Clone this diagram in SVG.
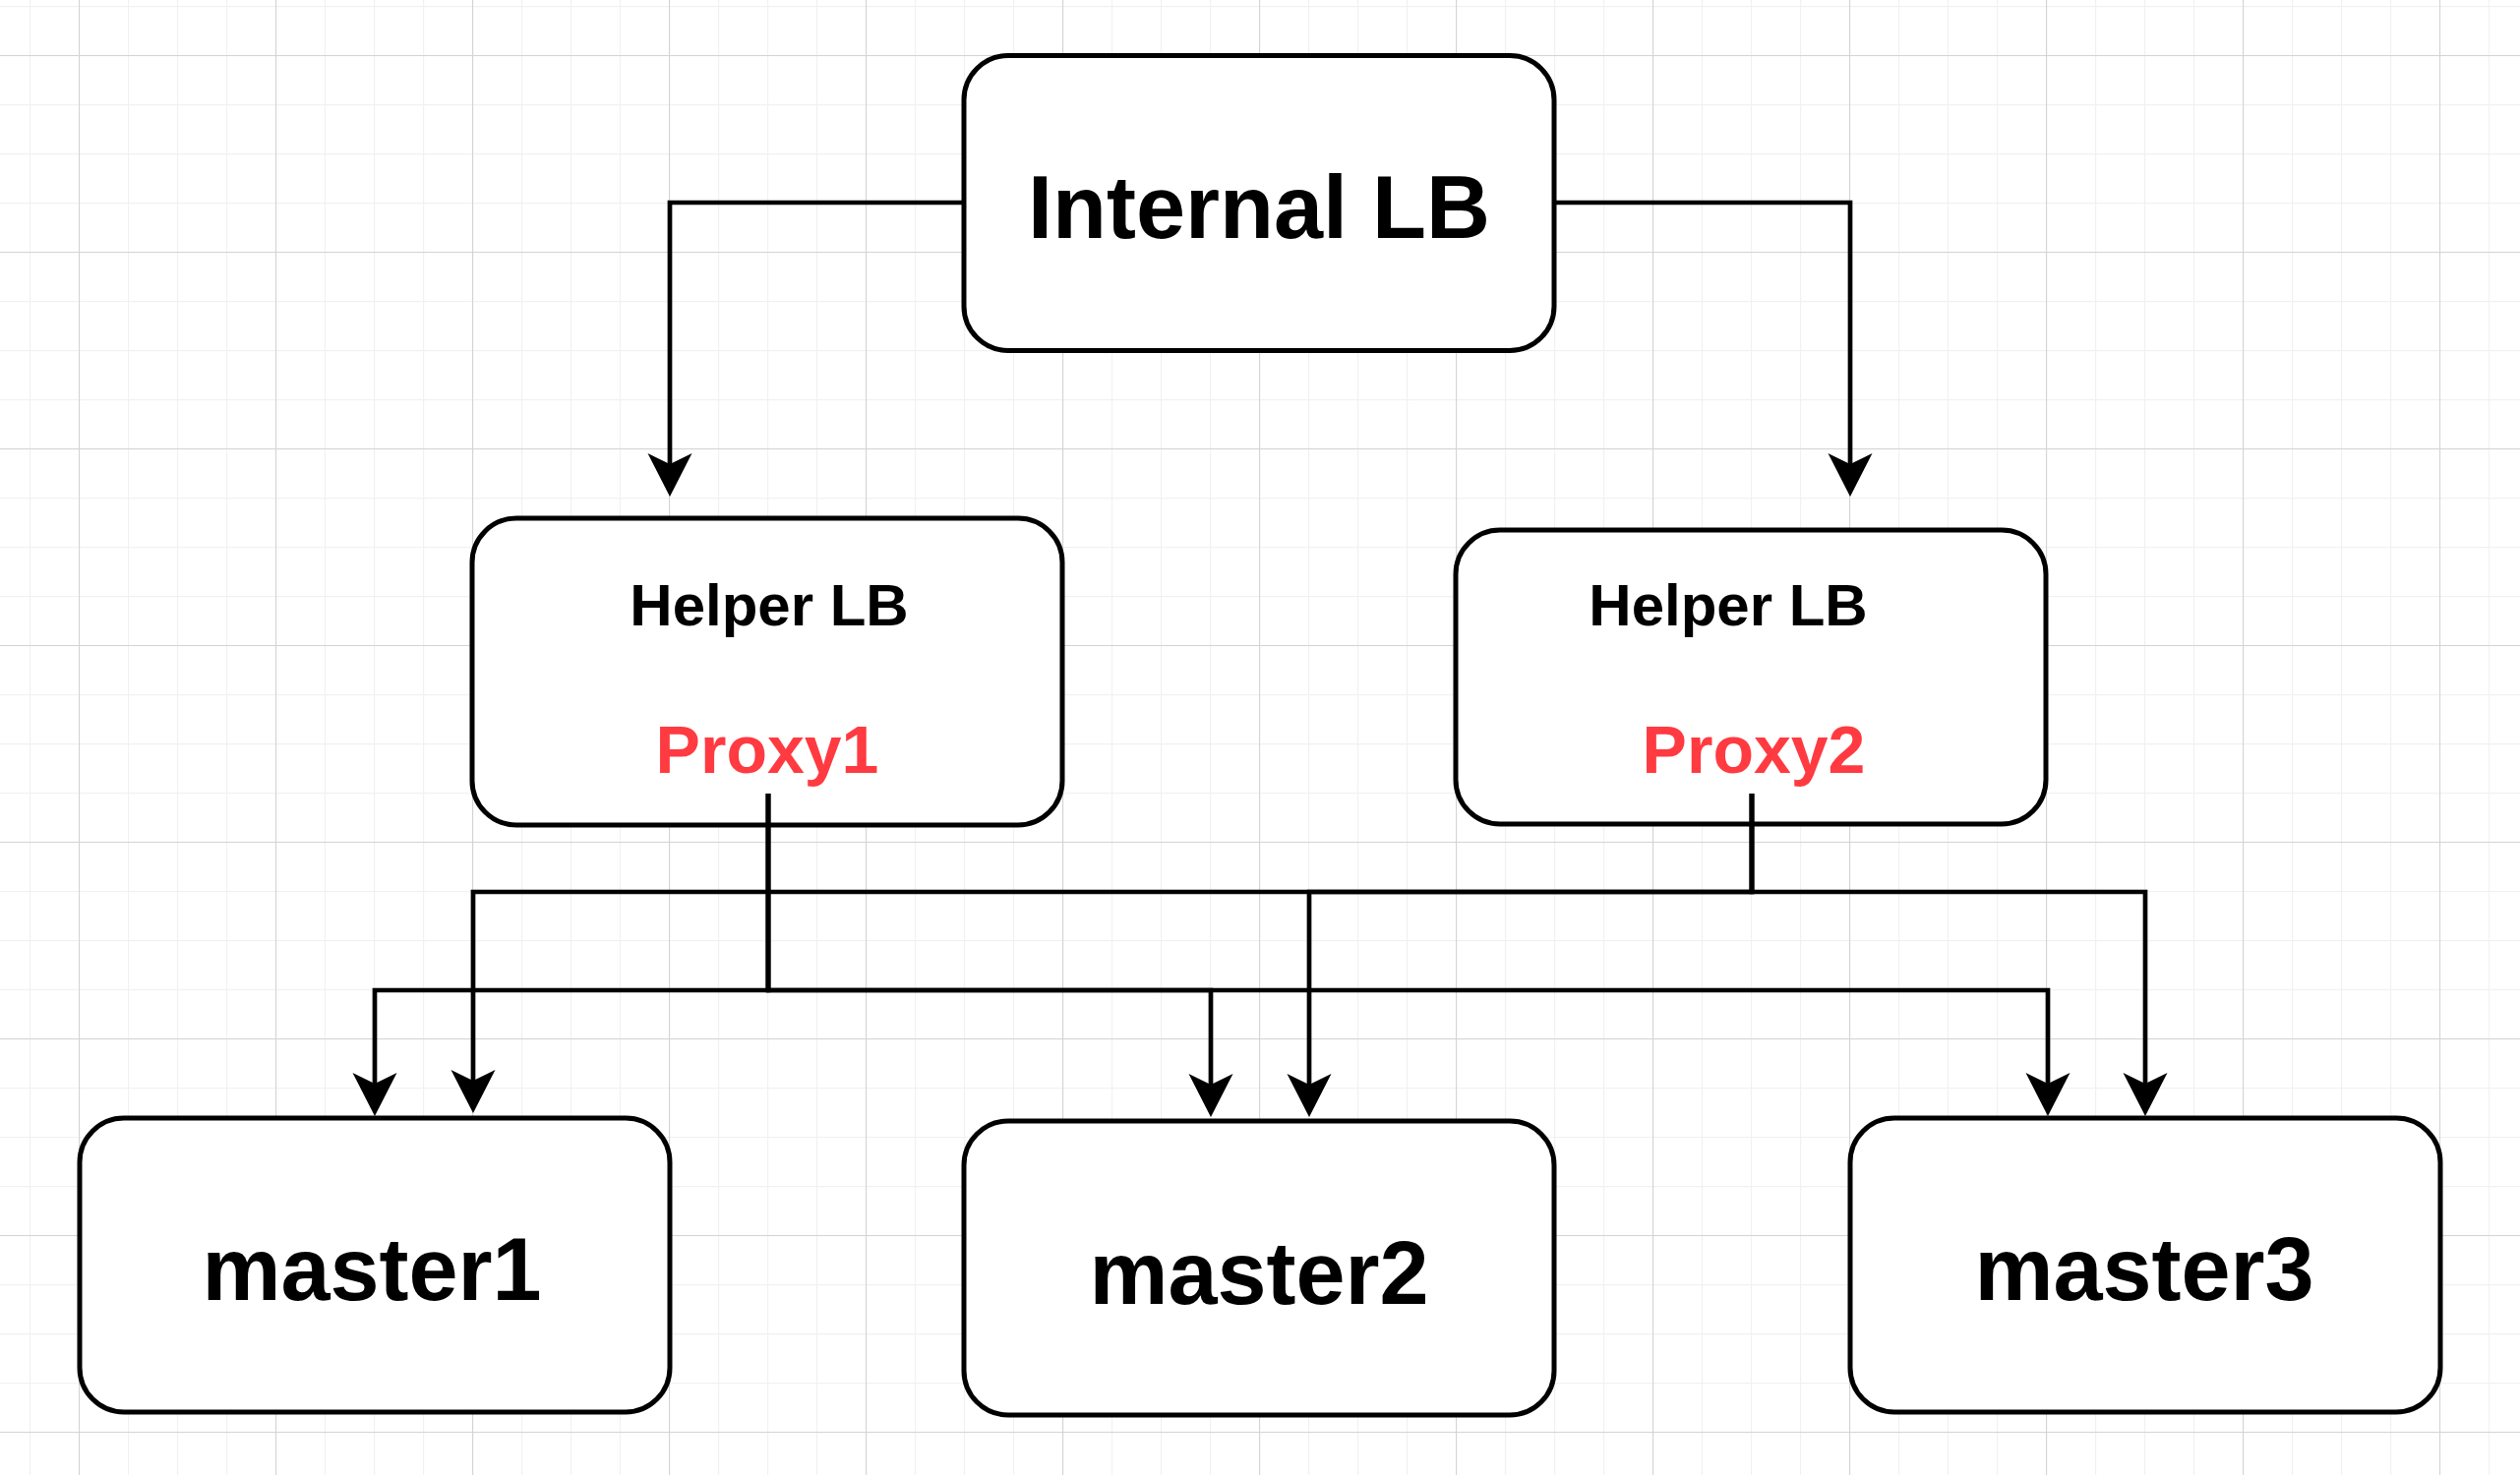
<svg xmlns="http://www.w3.org/2000/svg" width="2562" height="1500" viewBox="0 0 2562 1500">
  <style>
    .box { fill: #ffffff; stroke: #000000; stroke-width: 5; }
    .edge { fill: none; stroke: #000000; stroke-width: 4.7; stroke-linejoin: miter; stroke-linecap: butt; marker-end: url(#arrow); }
    .lbl { font-family: "Liberation Sans", Arial, Helvetica, sans-serif; font-weight: bold; text-anchor: middle; fill: #000000; }
    .big { font-size: 90px; }
    .mid { font-size: 60px; }
    .proxy { font-size: 68px; fill: #FF3A40; }
  </style>
  <defs>
    <pattern id="minorGrid" patternUnits="userSpaceOnUse" x="30" y="6" width="50" height="50">
      <path d="M0 0.5 H50 M0.5 0 V50" fill="none" stroke="#f1f1f1" stroke-width="1.3"/>
    </pattern>
    <pattern id="majorGrid" patternUnits="userSpaceOnUse" x="80" y="56" width="200" height="200">
      <path d="M0 0.5 H200 M0.5 0 V200" fill="none" stroke="#d4d4d4" stroke-width="1.2"/>
    </pattern>
    <marker id="arrow" markerUnits="userSpaceOnUse" viewBox="-46 -24 48 48" markerWidth="48" markerHeight="48" refX="-33" refY="0" orient="auto">
      <path d="M0,0 L-44,-22.5 L-33,0 L-44,22.5 Z" fill="#000000"/>
    </marker>
  </defs>

  <g id="background">
    <rect x="0" y="0" width="2562" height="1500" fill="#ffffff"/>
    <rect x="0" y="0" width="2562" height="1500" fill="url(#minorGrid)"/>
    <rect x="0" y="0" width="2562" height="1500" fill="url(#majorGrid)"/>
  </g>

  <g id="internal-lb">
    <rect class="box" x="980" y="56.5" width="600" height="300" rx="45" ry="45"/>
    <text class="lbl big" x="1280" y="242">Internal LB</text>
  </g>

  <g id="helper-lb-1">
    <rect class="box" x="480" y="527" width="600" height="312" rx="45" ry="45"/>
    <text class="lbl mid" x="782" y="636">Helper LB</text>
    <text class="lbl proxy" x="780" y="786">Proxy1</text>
  </g>

  <g id="helper-lb-2">
    <rect class="box" x="1480" y="539" width="600" height="299" rx="45" ry="45"/>
    <text class="lbl mid" x="1757" y="636">Helper LB</text>
    <text class="lbl proxy" x="1783" y="786">Proxy2</text>
  </g>

  <g id="master1">
    <rect class="box" x="81" y="1137" width="600" height="299" rx="45" ry="45"/>
    <text class="lbl big" x="378" y="1322">master1</text>
  </g>

  <g id="master2">
    <rect class="box" x="980" y="1140" width="600" height="299" rx="45" ry="45"/>
    <text class="lbl big" x="1280" y="1326">master2</text>
  </g>

  <g id="master3">
    <rect class="box" x="1881" y="1137" width="600" height="299" rx="45" ry="45"/>
    <text class="lbl big" x="2180" y="1322">master3</text>
  </g>

  <g id="connectors">
    <path class="edge" d="M980,206 H681 V472"/>
    <path class="edge" d="M1580,206 H1881 V472"/>

    <path class="edge" d="M781,807 V1007 H381 V1102"/>
    <path class="edge" d="M781,807 V1007 H1231 V1103"/>
    <path class="edge" d="M781,807 V1007 H2082 V1102"/>

    <path class="edge" d="M1781,807 V907 H481 V1099"/>
    <path class="edge" d="M1781,807 V907 H1331 V1103"/>
    <path class="edge" d="M1781,807 V907 H2181 V1102"/>
  </g>
</svg>
